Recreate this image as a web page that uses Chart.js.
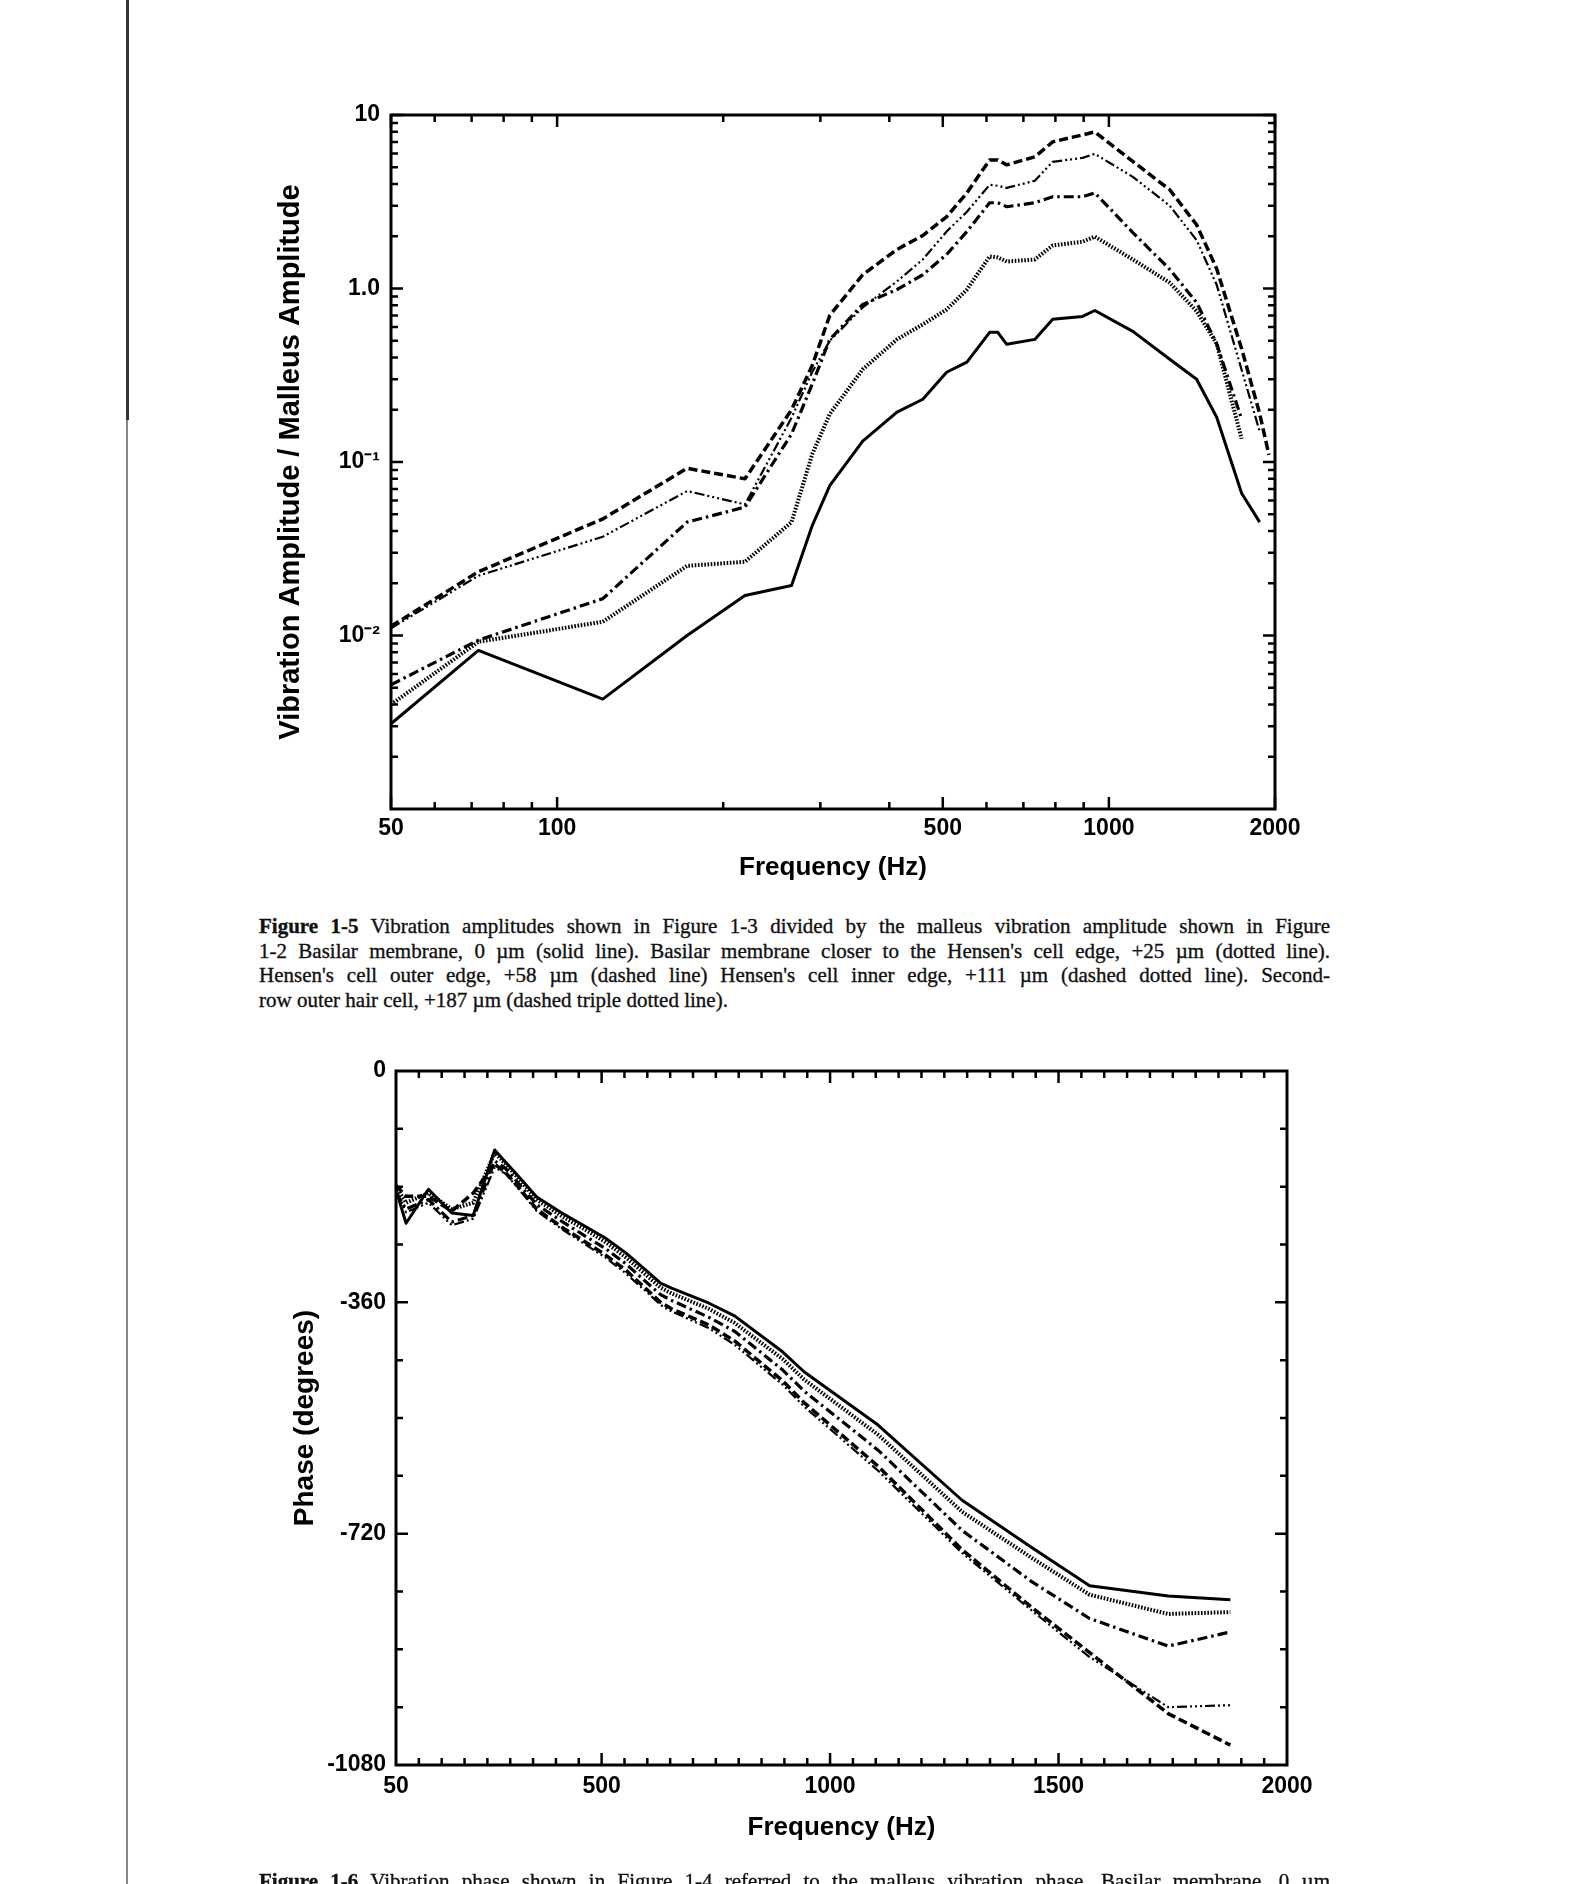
<!DOCTYPE html>
<html>
<head>
<meta charset="utf-8">
<script src="https://cdn.jsdelivr.net/npm/chart.js@4.4.0/dist/chart.umd.min.js"></script>
<style>
  html, body { margin: 0; padding: 0; background: #fff; }
  body { width: 1576px; height: 1884px; position: relative; overflow: hidden; font-family: "Liberation Serif", serif; color: #111; }
  canvas { position: absolute; left: 0; }
  #ampChart { top: 0; }
  #phaseChart { top: 1020px; }
  .caption { position: absolute; left: 259px; width: 1071px; font-size: 21px; line-height: 24.5px; -webkit-text-stroke: 0.35px #111; }
  .caption .j { text-align: justify; text-align-last: justify; }
  .scanline { position: absolute; left: 126px; top: 0; width: 2px; height: 1884px; background: #888; }
  .scanline.dark { width: 3px; height: 420px; background: #333; }
</style>
</head>
<body>
<div class="scanline"></div>
<div class="scanline dark"></div>

<canvas id="ampChart" width="1576" height="900"></canvas>

<div class="caption" style="top:914px">
  <div class="j"><b>Figure 1-5</b> Vibration amplitudes shown in Figure 1-3 divided by the malleus vibration amplitude shown in Figure</div>
  <div class="j">1-2 Basilar membrane, 0 µm (solid line). Basilar membrane closer to the Hensen's cell edge, +25 µm (dotted line).</div>
  <div class="j">Hensen's cell outer edge, +58 µm (dashed line) Hensen's cell inner edge, +111 µm (dashed dotted line). Second-</div>
  <div>row outer hair cell, +187 µm (dashed triple dotted line).</div>
</div>

<canvas id="phaseChart" width="1576" height="864"></canvas>

<div class="caption" style="top:1869px">
  <div class="j"><b>Figure 1-6</b> Vibration phase shown in Figure 1-4 referred to the malleus vibration phase. Basilar membrane, 0 µm</div>
</div>

<script>
// measurement frequencies (Hz), shared by both figures
const freqHz = [50, 72, 121, 172, 219, 266, 290, 312, 358, 413, 460, 508, 553, 608, 629, 653, 734, 791, 896, 943, 1105, 1289, 1442, 1568, 1740, 1876, 1950];

// Figure 1-5: amplitude ratio
const ampSolid   = [0.0031, 0.0082, 0.0043, 0.0100, 0.0170, 0.0194, 0.043, 0.073, 0.132, 0.194, 0.230, 0.329, 0.376, 0.559, 0.559, 0.477, 0.509, 0.664, 0.690, 0.747, 0.566, 0.391, 0.300, 0.181, 0.066, 0.045, null];
const ampDotted  = [0.0040, 0.0092, 0.0120, 0.0252, 0.0266, 0.045, 0.111, 0.189, 0.342, 0.509, 0.621, 0.757, 0.987, 1.53, 1.51, 1.43, 1.47, 1.77, 1.86, 1.99, 1.47, 1.08, 0.74, 0.48, 0.136, null, null];
const ampDashDot = [0.0052, 0.0094, 0.0163, 0.045, 0.055, 0.145, 0.281, 0.509, 0.809, 0.987, 1.20, 1.57, 2.13, 3.12, 3.12, 2.96, 3.12, 3.38, 3.38, 3.56, 2.10, 1.29, 0.83, 0.48, 0.177, null, null];
const ampTriple  = [0.0110, 0.0221, 0.0371, 0.068, 0.057, 0.18, 0.33, 0.50, 0.778, 1.10, 1.47, 2.13, 2.77, 3.96, 3.91, 3.80, 4.18, 5.37, 5.66, 5.97, 4.40, 3.00, 1.90, 1.05, 0.34, 0.15, null];
const ampDashed  = [0.0113, 0.0233, 0.047, 0.092, 0.080, 0.20, 0.36, 0.70, 1.20, 1.68, 2.02, 2.59, 3.56, 5.51, 5.51, 5.16, 5.74, 7.00, 7.68, 7.99, 5.40, 3.71, 2.33, 1.30, 0.45, 0.19, 0.11];

// Figure 1-6: phase (degrees)
const phaseSolid   = [-185, -237, -184, -221, -225, -123, -142, -159, -196, -221, -240, -260, -283, -317, -330, -338, -361, -381, -437, -468, -551, -668, -742, -801, -817, -823, null];
const phaseDotted  = [-180, -205, -190, -215, -205, -127, -145, -162, -200, -226, -245, -266, -290, -324, -337, -346, -370, -392, -448, -480, -566, -686, -758, -815, -845, -842, null];
const phaseDashDot = [-190, -215, -200, -235, -225, -140, -152, -170, -208, -234, -255, -276, -300, -335, -348, -357, -383, -405, -465, -498, -590, -715, -795, -852, -895, -873, null];
const phaseDashed  = [-178, -195, -195, -218, -190, -145, -158, -176, -215, -243, -264, -286, -310, -346, -360, -370, -395, -420, -482, -516, -615, -745, -835, -905, -1000, -1049, null];
const phaseTriple  = [-185, -220, -205, -240, -230, -150, -160, -178, -218, -246, -268, -290, -315, -350, -364, -374, -400, -426, -488, -522, -622, -750, -840, -912, -990, -987, null];

// axis ticks and labels
const ampXLabelValues = [50, 100, 500, 1000, 2000];
const ampXMinor = [60, 70, 80, 90, 200, 300, 400, 600, 700, 800, 900];
const ampYLabelValues = [0.01, 0.1, 1, 10];
const ampYLabelText = ["10\u207B\u00B2", "10\u207B\u00B9", "1.0", "10"];

const phaseXLabelValues = [50, 500, 1000, 1500, 2000];
const phaseYLabelValues = [0, -360, -720, -1080];

const ampYMinor = [];
[0.001, 0.01, 0.1, 1].forEach(d => { for (let k = 2; k <= 9; k++) ampYMinor.push(k * d); });
const phaseXMinor = [];
for (let f = 100; f < 2000; f += 50) phaseXMinor.push(f);
const phaseYMinor = [];
for (let p = -90; p > -1080; p -= 90) phaseYMinor.push(p);

const lineStyles = {
	solid:   { borderDash: [], borderWidth: 3 },
	dotted:  { borderDash: [1.6, 1.6], borderWidth: 4 },
	dashed:  { borderDash: [9, 4], borderWidth: 3.5 },
	dashDot: { borderDash: [10, 4, 2.5, 4], borderWidth: 3.2 },
	triple:  { borderDash: [10, 3, 2, 3, 2, 3, 2, 3], borderWidth: 2.2 },
};

function series(values, style, label) {
	return Object.assign({
		label: label,
		data: freqHz.map((f, i) => ({ x: f, y: values[i] })),
		borderColor: "#000",
		pointRadius: 0,
		tension: 0,
		fill: false,
		borderJoinStyle: "round",
	}, lineStyles[style]);
}

// inward tick marks on all four sides plus the box
function frameTicks(xMajor, xMinor, yMajor, yMinor) {
	return {
		id: "frameTicks",
		afterDatasetsDraw(chart) {
			const { ctx, chartArea: a } = chart;
			const sx = chart.scales.x, sy = chart.scales.y;
			ctx.save();
			ctx.strokeStyle = "#000";
			ctx.lineWidth = 2.5;
			ctx.beginPath();
			const xt = (v, len) => {
				const p = sx.getPixelForValue(v);
				ctx.moveTo(p, a.bottom); ctx.lineTo(p, a.bottom - len);
				ctx.moveTo(p, a.top); ctx.lineTo(p, a.top + len);
			};
			const yt = (v, len) => {
				const p = sy.getPixelForValue(v);
				ctx.moveTo(a.left, p); ctx.lineTo(a.left + len, p);
				ctx.moveTo(a.right, p); ctx.lineTo(a.right - len, p);
			};
			xMajor.forEach(v => xt(v, 12));
			xMinor.forEach(v => xt(v, 7));
			yMajor.forEach(v => yt(v, 12));
			yMinor.forEach(v => yt(v, 7));
			ctx.stroke();
			ctx.lineWidth = 3;
			ctx.strokeRect(a.left, a.top, a.right - a.left, a.bottom - a.top);
			ctx.restore();
		},
	};
}

const tickFont = { family: "'Liberation Sans', Arial, sans-serif", size: 23, weight: "bold" };
const noGrid = { display: false, drawTicks: false };

new Chart(document.getElementById("ampChart").getContext("2d"), {
	type: "line",
	data: {
		datasets: [
			series(ampSolid, "solid", "Basilar membrane, 0 \u00B5m"),
			series(ampDotted, "dotted", "+25 \u00B5m"),
			series(ampDashDot, "dashDot", "+111 \u00B5m"),
			series(ampTriple, "triple", "+187 \u00B5m"),
			series(ampDashed, "dashed", "+58 \u00B5m"),
		],
	},
	options: {
		responsive: false,
		animation: false,
		devicePixelRatio: 1,
		layout: { padding: { left: 0, top: 115, right: 301, bottom: 0 } },
		plugins: { legend: { display: false }, tooltip: { enabled: false } },
		scales: {
			x: {
				type: "logarithmic",
				min: 50,
				max: 2000,
				grid: noGrid,
				border: { display: false },
				afterBuildTicks: (s) => { s.ticks = ampXLabelValues.map(v => ({ value: v })); },
				afterFit: (s) => { s.height = 91; },
				ticks: { color: "#000", font: tickFont, padding: 6, maxRotation: 0, autoSkip: false, callback: (v) => String(v) },
				title: { display: true, text: "Frequency (Hz)", color: "#000", font: { family: "'Liberation Sans', Arial, sans-serif", size: 26, weight: "bold" }, padding: { top: 0, bottom: 17 } },
			},
			y: {
				type: "logarithmic",
				min: 0.001,
				max: 10,
				grid: noGrid,
				border: { display: false },
				afterBuildTicks: (s) => { s.ticks = ampYLabelValues.map(v => ({ value: v })); },
				afterFit: (s) => { s.width = 391; },
				ticks: { color: "#000", font: tickFont, padding: 11, autoSkip: false, callback: (v, i) => ampYLabelText[i] },
				title: { display: true, text: "Vibration Amplitude / Malleus Amplitude", color: "#000", font: { family: "'Liberation Sans', Arial, sans-serif", size: 29, weight: "bold" }, padding: { top: 274, bottom: 0 } },
			},
		},
	},
	plugins: [frameTicks(ampXLabelValues, ampXMinor, ampYLabelValues, ampYMinor)],
});

new Chart(document.getElementById("phaseChart").getContext("2d"), {
	type: "line",
	data: {
		datasets: [
			series(phaseSolid, "solid", "Basilar membrane, 0 \u00B5m"),
			series(phaseDotted, "dotted", "+25 \u00B5m"),
			series(phaseDashDot, "dashDot", "+111 \u00B5m"),
			series(phaseTriple, "triple", "+187 \u00B5m"),
			series(phaseDashed, "dashed", "+58 \u00B5m"),
		],
	},
	options: {
		responsive: false,
		animation: false,
		devicePixelRatio: 1,
		layout: { padding: { left: 0, top: 51, right: 289, bottom: 0 } },
		plugins: { legend: { display: false }, tooltip: { enabled: false } },
		scales: {
			x: {
				type: "linear",
				min: 50,
				max: 2000,
				grid: noGrid,
				border: { display: false },
				afterBuildTicks: (s) => { s.ticks = phaseXLabelValues.map(v => ({ value: v })); },
				afterFit: (s) => { s.height = 119; },
				ticks: { color: "#000", font: tickFont, padding: 8, maxRotation: 0, autoSkip: false, callback: (v) => String(v) },
				title: { display: true, text: "Frequency (Hz)", color: "#000", font: { family: "'Liberation Sans', Arial, sans-serif", size: 26, weight: "bold" }, padding: { top: 0, bottom: 41 } },
			},
			y: {
				type: "linear",
				min: -1080,
				max: 0,
				grid: noGrid,
				border: { display: false },
				afterBuildTicks: (s) => { s.ticks = phaseYLabelValues.map(v => ({ value: v })); },
				afterFit: (s) => { s.width = 396; },
				ticks: { color: "#000", font: tickFont, padding: 10, autoSkip: false, callback: (v) => String(v) },
				title: { display: true, text: "Phase (degrees)", color: "#000", font: { family: "'Liberation Sans', Arial, sans-serif", size: 28, weight: "bold" }, padding: { top: 288, bottom: 0 } },
			},
		},
	},
	plugins: [frameTicks(phaseXLabelValues.slice(1, 4), phaseXMinor.filter(v => v % 500 !== 0), phaseYLabelValues.slice(1, 3), phaseYMinor.filter(v => v % 360 !== 0))],
});
</script>
</body>
</html>
